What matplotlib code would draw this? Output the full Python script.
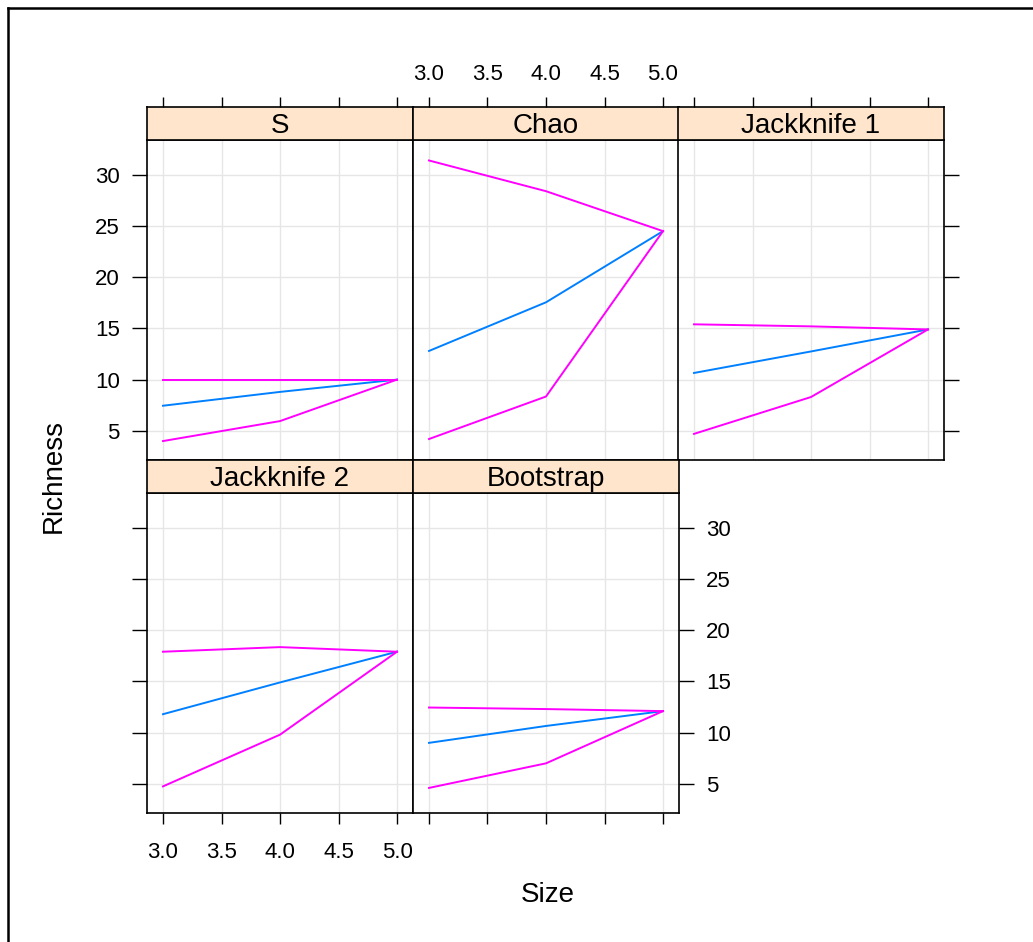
import matplotlib
matplotlib.use("Agg")
import matplotlib.pyplot as plt
from matplotlib.lines import Line2D

plt.rcParams['font.family'] = ['Liberation Sans', 'DejaVu Sans']

# data
sizes = [3.0, 4.0, 5.0]
estimators = ['S', 'Chao', 'Jackknife 1', 'Jackknife 2', 'Bootstrap']
mean_vals = [
    [7.45, 8.8, 10.0],
    [12.8, 17.55, 24.5],
    [10.65, 12.75, 14.9],
    [11.8, 14.9, 17.9],
    [9.0, 10.65, 12.1],
]
lower_vals = [
    [4.0, 5.95, 10.0],
    [4.2, 8.35, 24.5],
    [4.7, 8.3, 14.9],
    [4.75, 9.8, 17.9],
    [4.6, 7.0, 12.1],
]
upper_vals = [
    [10.0, 10.0, 10.0],
    [31.4, 28.4, 24.5],
    [15.4, 15.2, 14.9],
    [17.9, 18.35, 17.9],
    [12.45, 12.3, 12.1],
]
x_ticks = [3.0, 3.5, 4.0, 4.5, 5.0]
x_ticklabels = ['3.0', '3.5', '4.0', '4.5', '5.0']
y_ticks = [5, 10, 15, 20, 25, 30]

W, H = 1033, 942
fig = plt.figure(figsize=(W / 100, H / 100), dpi=100)

mean_col = '#0080ff'
band_col = '#ff00ff'
strip_col = '#ffe5cc'
grid_col = '#e6e6e6'

col_left = [147, 413, 678]
panel_w = 266
row_top = [140, 493]
panel_h = 320
strip_h = 33

xlim = (3 - 16 / 117, 5 + 16 / 117)
ylim = (2.15, 33.4)


def fx(px):
    return px / W


def fy(py):
    return 1 - py / H


# layout: (row, col) for each panel and which sides carry ticks / labels
layout = [
    dict(r=0, c=0, left=True, left_lab=True, top=True),
    dict(r=0, c=1, top=True, top_lab=True),
    dict(r=0, c=2, top=True, right=True),
    dict(r=1, c=0, left=True, bottom=True, bottom_lab=True),
    dict(r=1, c=1, bottom=True, right=True, right_lab=True),
]

for i, name in enumerate(estimators):
    opt = layout[i]
    x0 = col_left[opt['c']]
    y0 = row_top[opt['r']]
    ax = fig.add_axes([fx(x0), fy(y0 + panel_h), panel_w / W, panel_h / H])
    sax = fig.add_axes([fx(x0), fy(y0), panel_w / W, strip_h / H])

    for xv in x_ticks:
        ax.axvline(xv, color=grid_col, lw=1, zorder=0)
    for yv in y_ticks:
        ax.axhline(yv, color=grid_col, lw=1, zorder=0)

    ax.plot(sizes, mean_vals[i], color=mean_col, lw=1.4)
    ax.plot(sizes, lower_vals[i], color=band_col, lw=1.4)
    ax.plot(sizes, upper_vals[i], color=band_col, lw=1.4)

    ax.set_xlim(xlim)
    ax.set_ylim(ylim)
    for sp in ax.spines.values():
        sp.set_linewidth(1.2)

    ax.set_xticks(x_ticks)
    ax.set_xticklabels(x_ticklabels)
    ax.set_yticks(y_ticks)
    ax.tick_params(axis='x', direction='out', length=8, width=1,
                   labelsize=16, pad=13,
                   bottom=opt.get('bottom', False),
                   labelbottom=opt.get('bottom_lab', False),
                   top=False, labeltop=False)
    ax.tick_params(axis='y', direction='out', length=10.5, width=1,
                   labelsize=16, pad=9,
                   left=opt.get('left', False),
                   labelleft=opt.get('left_lab', False),
                   right=opt.get('right', False),
                   labelright=opt.get('right_lab', False))

    # strip
    sax.set_facecolor(strip_col)
    sax.set_xlim(xlim)
    sax.set_ylim(0, 1)
    sax.set_yticks([])
    sax.set_xticks(x_ticks)
    sax.set_xticklabels(x_ticklabels)
    sax.tick_params(axis='x', direction='out', length=7.5, width=1,
                    labelsize=16, pad=8,
                    bottom=False, labelbottom=False,
                    top=opt.get('top', False),
                    labeltop=opt.get('top_lab', False))
    for sp in sax.spines.values():
        sp.set_linewidth(1.2)
    sax.text(0.5, 0.42, name, transform=sax.transAxes, ha='center',
             va='center', fontsize=20)

fig.text(fx(54), fy(476), 'Richness', rotation=90, ha='center',
         va='center', fontsize=20)
fig.text(fx(548), fy(895), 'Size', ha='center', va='center', fontsize=20)

# outer border (only top and left edges fall inside the image)
fig.add_artist(Line2D([fx(8), 1], [fy(8), fy(8)], color='black', lw=1.8))
fig.add_artist(Line2D([fx(8), fx(8)], [0, fy(8)], color='black', lw=1.8))

fig.savefig('out.png', dpi=100)
